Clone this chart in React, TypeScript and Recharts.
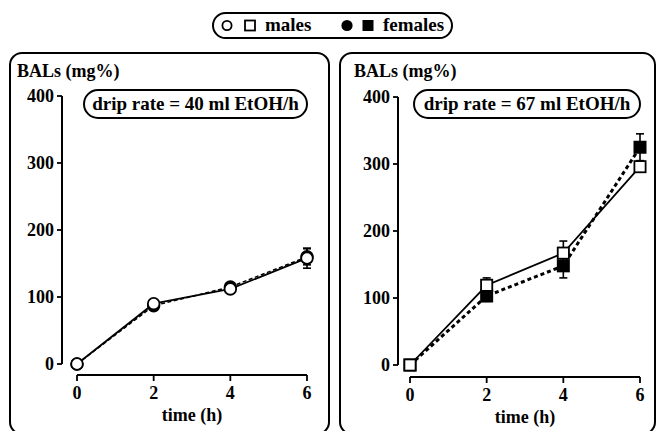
import React from 'react';
import { LineChart, Line, XAxis, YAxis, ErrorBar, ReferenceLine } from 'recharts';

// ---- data ----
const times = [0, 2, 4, 6];
const xTicks = [0, 2, 4, 6];
const yTicks = [0, 100, 200, 300, 400];

// drip rate = 40 ml EtOH/h
const maleA = [0, 90, 112, 158];
const maleAErr = [0, 4, 5, 15];
const femaleA = [0, 87, 115, 160];
const femaleAErr = [0, 3, 4, 12];

// drip rate = 67 ml EtOH/h
const maleB = [0, 119, 167, 296];
const maleBErr = [0, 11, 18, 8];
const femaleB = [0, 103, 148, 325];
const femaleBErr = [0, 8, 18, 20];

const FONT = '"Liberation Serif", "Times New Roman", serif';

const build = (m: number[], me: number[], f: number[], fe: number[]) =>
  times.map((t, i) => ({ t, male: m[i], maleErr: me[i], female: f[i], femaleErr: fe[i] }));

const dataA = build(maleA, maleAErr, femaleA, femaleAErr);
const dataB = build(maleB, maleBErr, femaleB, femaleBErr);

const makeDot = (shape: 'circle' | 'square', filled: boolean) => (props: any) => {
  const { cx, cy, index } = props;
  const k = `${shape}-${filled ? 'f' : 'o'}-${index}`;
  if (cx == null || cy == null) return <g key={k} />;
  const fill = filled ? '#000' : '#fff';
  if (shape === 'circle') {
    return <circle key={k} cx={cx} cy={cy} r={5.8} fill={fill} stroke="#000" strokeWidth={1.8} />;
  }
  return <rect key={k} x={cx - 5.6} y={cy - 5.6} width={11.2} height={11.2} fill={fill} stroke="#000" strokeWidth={1.8} />;
};

type PanelProps = {
  left: number;
  width: number;
  height: number;
  x0px: number;
  x6px: number;
  yAxisPx: number;
  y400px: number;
  y0px: number;
  xAxisPx: number;
  data: any[];
  shape: 'circle' | 'square';
  femaleWidth: number;
  femaleDash: string;
};

const tickStyle = { fill: '#000', fontSize: 18, fontWeight: 700, fontFamily: FONT };

function Panel(p: PanelProps) {
  const YW = 50;
  const XH = 30;
  const ppx = (p.x6px - p.x0px) / 6;
  const xMin = -(p.x0px - p.yAxisPx) / ppx;
  const xMax = 6.25;
  const plotRight = p.x0px + xMax * ppx;
  const ppy = (p.y0px - p.y400px) / 400;
  const yMin = -(p.xAxisPx - p.y0px) / ppy;
  const margin = {
    top: p.y400px,
    bottom: p.height - p.xAxisPx - XH,
    left: p.yAxisPx - YW,
    right: p.width - plotRight,
  };
  const plotCenter = (p.yAxisPx + plotRight) / 2;
  const dataCenter = p.x0px + 3 * ppx;
  return (
    <div style={{ position: 'absolute', left: p.left, top: 0 }}>
      <LineChart width={p.width} height={p.height} data={p.data} margin={margin}>
        <XAxis
          type="number"
          dataKey="t"
          domain={[xMin, xMax]}
          allowDataOverflow
          ticks={xTicks}
          axisLine={false}
          tickLine={{ stroke: '#000', strokeWidth: 1.8 }}
          tickSize={6}
          tickMargin={5}
          height={XH}
          tick={tickStyle}
          label={{
            value: 'time (h)',
            position: 'bottom',
            offset: 3,
            dx: dataCenter - plotCenter,
            fill: '#000',
            fontSize: 18,
            fontWeight: 700,
            fontFamily: FONT,
          }}
        />
        <YAxis
          type="number"
          domain={[yMin, 400]}
          allowDataOverflow
          ticks={yTicks}
          axisLine={false}
          tickLine={{ stroke: '#000', strokeWidth: 1.8 }}
          tickSize={5}
          tickMargin={3}
          width={YW}
          tick={tickStyle}
        />
        <ReferenceLine
          segment={[{ x: xMin, y: 0 }, { x: xMin, y: 400 }]}
          stroke="#000"
          strokeWidth={2}
          ifOverflow="visible"
        />
        <ReferenceLine
          segment={[{ x: 0, y: yMin }, { x: 6, y: yMin }]}
          stroke="#000"
          strokeWidth={2}
          ifOverflow="visible"
        />
        <Line
          type="linear"
          dataKey="female"
          stroke="#000"
          strokeWidth={p.femaleWidth}
          strokeDasharray={p.femaleDash}
          dot={makeDot(p.shape, true)}
          activeDot={false}
          isAnimationActive={false}
        >
          <ErrorBar dataKey="femaleErr" direction="y" width={4} stroke="#000" strokeWidth={1.6} />
        </Line>
        <Line
          type="linear"
          dataKey="male"
          stroke="#000"
          strokeWidth={1.8}
          dot={makeDot(p.shape, false)}
          activeDot={false}
          isAnimationActive={false}
        >
          <ErrorBar dataKey="maleErr" direction="y" width={4} stroke="#000" strokeWidth={1.6} />
        </Line>
      </LineChart>
    </div>
  );
}

export default function App() {
  const W = 657;
  const H = 431;
  return (
    <div style={{ position: 'absolute', left: 0, top: 0, width: W, height: H, overflow: 'hidden', background: '#fff' }}>
      {/* background: panel frames and legend */}
      <svg width={W} height={H} style={{ position: 'absolute', left: 0, top: 0 }}>
        <rect x={10} y={53} width={319} height={381} rx={12} fill="#fff" stroke="#000" strokeWidth={2} />
        <rect x={340} y={53} width={315} height={381} rx={12} fill="#fff" stroke="#000" strokeWidth={2} />
        <rect x={213} y={13} width={239} height={25} rx={12.5} fill="#fff" stroke="#000" strokeWidth={2} />
        <circle cx={227} cy={25.5} r={4.6} fill="#fff" stroke="#000" strokeWidth={1.8} />
        <rect x={245} y={20.5} width={10} height={10} fill="#fff" stroke="#000" strokeWidth={1.8} />
        <text x={265} y={31} fontFamily={FONT} fontWeight={700} fontSize={19} fill="#000">males</text>
        <circle cx={347} cy={25.5} r={5.6} fill="#000" />
        <rect x={362.5} y={20} width={11} height={11} fill="#000" />
        <text x={383} y={31} fontFamily={FONT} fontWeight={700} fontSize={19} fill="#000">females</text>
      </svg>

      <Panel
        left={0}
        width={330}
        height={H}
        x0px={77}
        x6px={307}
        yAxisPx={62}
        y400px={96}
        y0px={364}
        xAxisPx={375}
        data={dataA}
        shape="circle"
        femaleWidth={1.5}
        femaleDash="4 2.5"
      />
      <Panel
        left={330}
        width={327}
        height={H}
        x0px={80}
        x6px={310}
        yAxisPx={68}
        y400px={97}
        y0px={365}
        xAxisPx={377}
        data={dataB}
        shape="square"
        femaleWidth={3}
        femaleDash="4 3"
      />

      {/* overlay: titles and drip-rate labels */}
      <svg width={W} height={H} style={{ position: 'absolute', left: 0, top: 0, pointerEvents: 'none' }}>
        <text x={17} y={77} fontFamily={FONT} fontWeight={700} fontSize={18} fill="#000">BALs (mg%)</text>
        <text x={354} y={77} fontFamily={FONT} fontWeight={700} fontSize={18} fill="#000">BALs (mg%)</text>
        <rect x={84} y={90} width={223} height={28} rx={14} fill="#fff" stroke="#000" strokeWidth={2} />
        <text x={195.5} y={110} textAnchor="middle" fontFamily={FONT} fontWeight={700} fontSize={19} fill="#000">drip rate = 40 ml EtOH/h</text>
        <rect x={414} y={90} width={226} height={28} rx={14} fill="#fff" stroke="#000" strokeWidth={2} />
        <text x={527} y={110} textAnchor="middle" fontFamily={FONT} fontWeight={700} fontSize={19} fill="#000">drip rate = 67 ml EtOH/h</text>
      </svg>
    </div>
  );
}
